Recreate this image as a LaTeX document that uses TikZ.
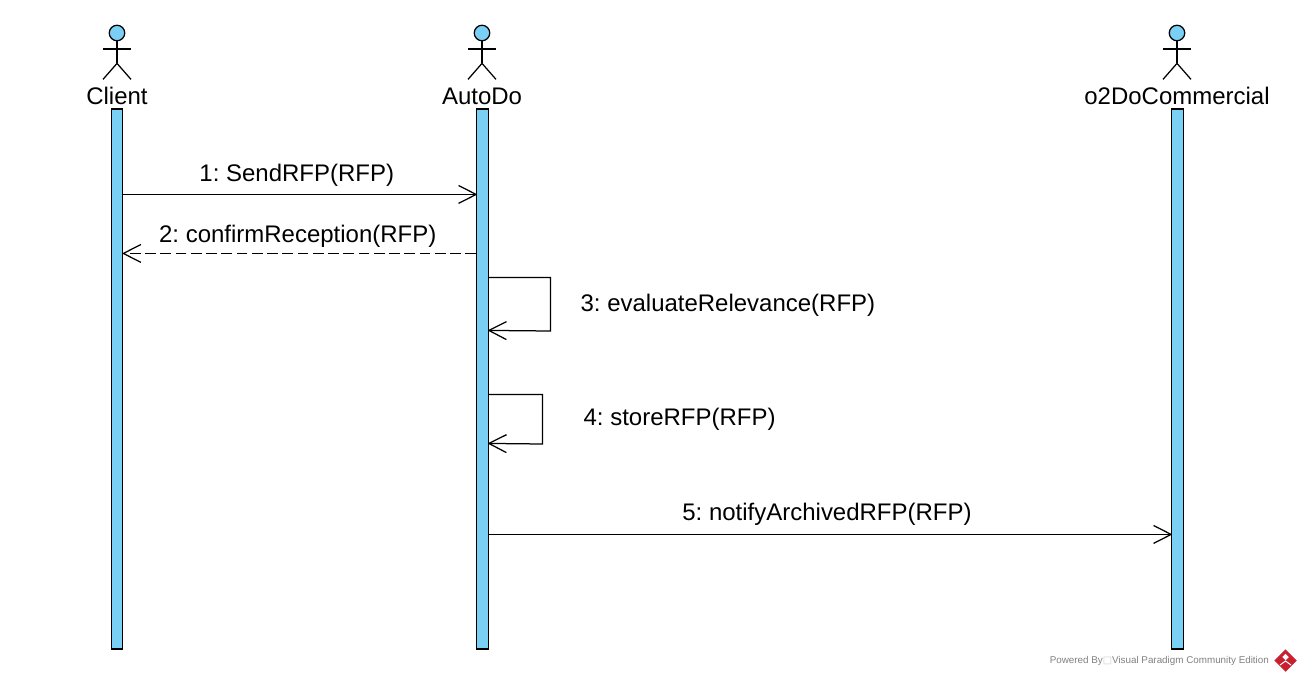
\documentclass[tikz,border=0pt]{standalone}
\usepackage{xcolor}
\usepackage{fontspec}
\setmainfont{Liberation Sans}
\newfontfamily\symfont{DejaVu Sans}
\usetikzlibrary{positioning,arrows.meta,shapes.geometric}
\definecolor{lifeblue}{HTML}{7ACFF5}
\definecolor{vpred}{HTML}{C8202F}
\definecolor{vpgray}{HTML}{808080}
\pgfdeclarearrow{
    name=OpenVee,
    setup code={\pgfarrowssettipend{0pt}\pgfarrowssetlineend{-0.3pt}\pgfarrowssetbackend{-10pt}\pgfarrowssetvisualbackend{-10pt}},
    drawing code={\pgfsetdash{}{0pt}\pgfsetroundjoin
        \pgfpathmoveto{\pgfpoint{-10pt}{5.1pt}}\pgfpathlineto{\pgfpointorigin}\pgfpathlineto{\pgfpoint{-10pt}{-5.1pt}}\pgfusepathqstroke},
}

\begin{document}
\frenchspacing
\begin{tikzpicture}[
        x=0.02cm,y=-0.02cm,
        line width=0.025cm,
        lifeline/.style={rectangle,draw,fill=lifeblue,minimum width=0.23cm,minimum height=10.8cm,inner sep=0pt},
        head/.style={circle,draw,fill=lifeblue,minimum size=0.31cm,inner sep=0pt},
        actorname/.style={font=\fontsize{13.65pt}{16pt}\selectfont,inner sep=0pt,anchor=base},
        msglabel/.style={font=\fontsize{13.65pt}{16pt}\selectfont,inner sep=0pt},
        arrow/.style={-{OpenVee}},
        reply/.style={arrow,dash pattern=on 0.215cm off 0.09cm}]
        \useasboundingbox (0,0) rectangle (1301,677);
        % lifelines
        \node[lifeline] (client) at (117,379) {};
        \node[lifeline] (autodo) at (482.5,379) {};
        \node[lifeline] (commercial) at (1177.5,379) {};
        % actors
        \foreach \who/\xpos/\txt in {clientactor/117/Client,autodoactor/482/AutoDo,commercialactor/1177/o2DoCommercial} {
            \node[head] (\who) at (\xpos,33) {};
            \draw (\who.south) -- ++(0,22) coordinate (\who hip);
            \draw (\xpos-14,49) -- (\xpos+14,49);
            \draw (\who hip) -- ++(-14,16);
            \draw (\who hip) -- ++(14,16);
            \node[actorname] at (\xpos,104) {\txt};
        }
        % anchors on the lifelines
        \path (client.north east) ++(0,86) coordinate (c1) ++(0,59) coordinate (c2);
        \path (autodo.north east) ++(0,169) coordinate (s3a) ++(0,53) coordinate (s3b)
            ++(0,64) coordinate (s4a) ++(0,49) coordinate (s4b) ++(0,91) coordinate (a5);
        \path (autodo.north west) ++(0,86) coordinate (a1) ++(0,59) coordinate (a2);
        \path (commercial.north west) ++(0,426) coordinate (c5);
        % messages
        \draw[arrow] (c1) -- node[above=0.15cm,msglabel,xshift=-0.06cm]{1: SendRFP(RFP)} (a1);
        \draw[arrow,reply] (a2) -- node[above=0.11cm,msglabel,xshift=-0.04cm]{2: confirmReception(RFP)} (c2);
        \draw[arrow] (s3a) -| (550.5,331) -- (s3b);
        \node[msglabel,anchor=west] (m3) at (580,305) {3: evaluateRelevance(RFP)};
        \draw[arrow] (s4a) -| (542.5,444) -- (s4b);
        \node[msglabel,anchor=west] (m4) at (583,419) {4: storeRFP(RFP)};
        \draw[arrow] (a5) -- node[above=0.17cm,msglabel,xshift=-0.06cm]{5: notifyArchivedRFP(RFP)} (c5);
        % watermark
        \node[anchor=east,inner sep=0pt,text=vpgray,font=\fontsize{5.6pt}{6pt}\selectfont] (powered) at (1269.5,661)
            {Powered By{\symfont\textcolor{vpgray!40}{□}}Visual Paradigm Community Edition};
        \node[diamond,fill=vpred,minimum size=0.46cm,inner sep=0pt] (logo) at (1285.5,660.5) {};
        \node[diamond,fill=white,minimum size=0.14cm,inner sep=0pt] (logoinner) at (1285.5,657) {};
        \draw[white,line width=0.02cm] (1280,665) -- (1285.5,661) -- (1291,665);
    \end{tikzpicture}
\end{document}
